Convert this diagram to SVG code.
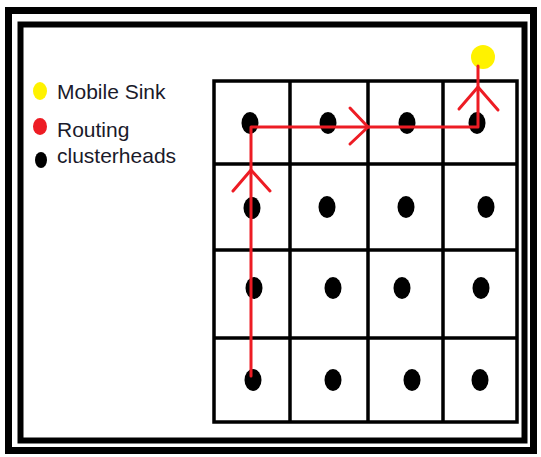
<svg xmlns="http://www.w3.org/2000/svg" width="541" height="457" viewBox="0 0 541 457">
<style>
.frame{fill:none;stroke:#000}
.grid{fill:none;stroke:#000;stroke-width:3.5}
.ch{fill:#000}
.route{fill:none;stroke:#ed1c24;stroke-width:3;stroke-linecap:round;stroke-linejoin:round}
.lbl{font-family:"Liberation Sans",Arial,sans-serif;font-size:21px;fill:#1a1a2a}
</style>
<rect width="541" height="457" fill="#fff"/>
<g id="frame">
<rect class="frame" x="8.5" y="10.5" width="525" height="440" stroke-width="7"/>
<rect class="frame" x="20.5" y="24.5" width="504" height="416" stroke-width="6"/>
</g>
<g id="legend">
<ellipse cx="40" cy="91" rx="7" ry="9" fill="#fff200"/>
<text class="lbl" x="57" y="99">Mobile Sink</text>
<ellipse cx="40" cy="126.5" rx="7" ry="8.5" fill="#ed1c24"/>
<text class="lbl" x="57" y="137">Routing</text>
<ellipse cx="41" cy="160" rx="6" ry="8" fill="#000"/>
<text class="lbl" x="57" y="163">clusterheads</text>
</g>
<g id="grid">
<rect class="grid" x="214" y="81" width="303" height="341"/>
<line class="grid" x1="290" y1="81" x2="290" y2="422"/>
<line class="grid" x1="368" y1="81" x2="368" y2="422"/>
<line class="grid" x1="443" y1="81" x2="443" y2="422"/>
<line class="grid" x1="214" y1="164" x2="517" y2="164"/>
<line class="grid" x1="214" y1="250" x2="517" y2="250"/>
<line class="grid" x1="214" y1="338" x2="517" y2="338"/>
</g>
<g id="clusterheads">
<ellipse id="ch11" class="ch" cx="250" cy="123" rx="8.5" ry="11"/>
<ellipse id="ch12" class="ch" cx="328" cy="123" rx="8.5" ry="11"/>
<ellipse id="ch13" class="ch" cx="407" cy="123" rx="8.5" ry="11"/>
<ellipse id="ch14" class="ch" cx="477" cy="123" rx="8.5" ry="11"/>
<ellipse id="ch21" class="ch" cx="252" cy="208" rx="8.5" ry="11"/>
<ellipse id="ch22" class="ch" cx="327" cy="207" rx="8.5" ry="11"/>
<ellipse id="ch23" class="ch" cx="406" cy="207" rx="8.5" ry="11"/>
<ellipse id="ch24" class="ch" cx="486" cy="207" rx="8.5" ry="11"/>
<ellipse id="ch31" class="ch" cx="254" cy="288" rx="8.5" ry="11"/>
<ellipse id="ch32" class="ch" cx="333" cy="288" rx="8.5" ry="11"/>
<ellipse id="ch33" class="ch" cx="402" cy="288" rx="8.5" ry="11"/>
<ellipse id="ch34" class="ch" cx="481" cy="288" rx="8.5" ry="11"/>
<ellipse id="ch41" class="ch" cx="253" cy="380" rx="8.5" ry="11"/>
<ellipse id="ch42" class="ch" cx="333" cy="380" rx="8.5" ry="11"/>
<ellipse id="ch43" class="ch" cx="412" cy="380" rx="8.5" ry="11"/>
<ellipse id="ch44" class="ch" cx="480" cy="380" rx="8.5" ry="11"/>
</g>
<g id="sink">
<circle cx="483" cy="57" r="12" fill="#fff200"/>
</g>
<g id="connectors">
<polyline class="route" points="251,376 251,127 478,127 478,66"/>
<polyline class="route" points="233,191 251,170 270,191"/>
<polyline class="route" points="350,108 368,127 350,144"/>
<polyline class="route" points="459,109 478,87 498,110"/>
</g>
</svg>
